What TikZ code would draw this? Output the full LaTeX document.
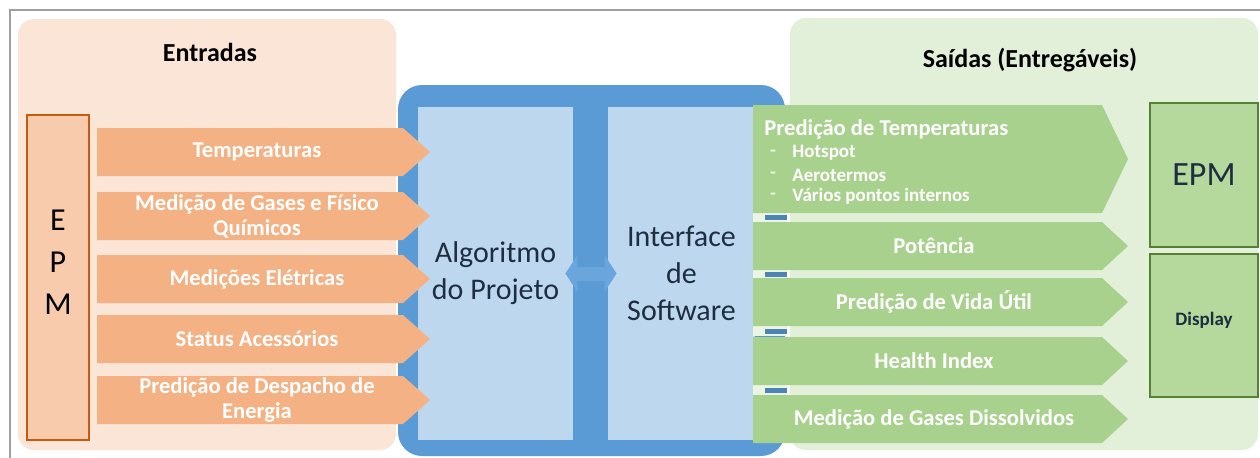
\documentclass[tikz,border=0pt]{standalone}
\usepackage{fontspec}
\setmainfont{Carlito}
\usetikzlibrary{arrows.meta}

\definecolor{peachbg}{HTML}{FBE5D6}
\definecolor{insigfill}{HTML}{F4B183}
\definecolor{epmfill}{HTML}{F8CBAD}
\definecolor{epmedge}{HTML}{C55A11}
\definecolor{frameblue}{HTML}{5B9BD5}
\definecolor{panelblue}{HTML}{BDD7EE}
\definecolor{arrowblue}{HTML}{6AA5DB}
\definecolor{greenbg}{HTML}{E2F0D9}
\definecolor{outsigfill}{HTML}{A9D18E}
\definecolor{boxgreen}{HTML}{B5D99C}
\definecolor{boxedge}{HTML}{548235}
\definecolor{darktext}{HTML}{1F2D40}

\begin{document}
\begin{tikzpicture}[x=0.5pt,y=-0.5pt,
  title/.style={font=\fontsize{13}{15}\selectfont\bfseries, text=black},
  sigtext/.style={font=\fontsize{11.3}{12.5}\selectfont\bfseries, text=white, align=center, inner sep=0pt},
  bultext/.style={font=\fontsize{9.5}{10.5}\selectfont\bfseries, text=white, inner sep=0pt},
  panel/.style={fill=panelblue, inner sep=0pt, align=center, text=darktext,
    font=\fontsize{15}{18.5}\selectfont},
  epmbox/.style={draw=boxedge, fill=boxgreen, line width=0.6pt, inner sep=0pt,
    minimum width=54pt, text=darktext},
  dblarrow/.style={draw=arrowblue, line width=7pt,
    {Triangle[width=18pt,length=6pt]}-{Triangle[width=18pt,length=6pt]},
    shorten <=-4pt, shorten >=-4.5pt}]
\useasboundingbox (0,0) rectangle (1260,457);
\fill[white] (0,0) rectangle (1260,457);
\draw[gray!75, line width=1pt] (10,10) rectangle (1275,475);

% backgrounds
\fill[peachbg, rounded corners=8pt] (18,19) rectangle (396,450);
\fill[greenbg, rounded corners=8pt] (790,18) rectangle (1258,450);
\node[title] (entr) at (210,52) {Entradas};
\node[title] (said) at (1030,60) {Saídas (Entregáveis)};

% blue frame
\fill[frameblue, rounded corners=12pt] (398,85) rectangle (785,456);
\node[panel, minimum width=77.5pt, minimum height=166.5pt] (alg) at (495.5,273.5) {Algoritmo\\do Projeto};
\node[panel, minimum width=73.5pt, minimum height=166.5pt] (intf) at (681.5,273.5) {Interface\\de\\Software};
\draw[dblarrow] (alg.east) -- (intf.west);

% EPM left
\node[draw=epmedge, fill=epmfill, line width=0.6pt, minimum width=31pt, minimum height=162.5pt, inner sep=0pt] (epmin) at (58,277.5) {};
\node[font=\fontsize{16}{21}\selectfont, align=center, text=black] (epmtxt) at (58,262) {E\\P\\M};

% inputs
\foreach \y/\t [count=\i] in {152/Temperaturas, 216/{Medição de Gases e Físico\\Químicos}, 279/Medições Elétricas, 339/Status Acessórios, 400/{Predição de Despacho de\\Energia}} {
  \fill[insigfill] (97,\y-24) -- (403,\y-24) -- (430,\y) -- (403,\y+24) -- (97,\y+24) -- cycle;
  \node[sigtext] (in\i) at (257,\y) {\t};
}

% outputs
\foreach \y in {217,274,331,390} {
  \fill[greenbg!70!white] (753,\y-5) rectangle (787,\y+5);
  \fill[frameblue!85!black] (765,\y-2.5) rectangle (787,\y+2.5);
}
\fill[outsigfill] (753,105) -- (1102,105) -- (1128,159) -- (1102,213) -- (753,213) -- cycle;
\node[sigtext, anchor=west] (ttl) at (764,129) {Predição de Temperaturas};
\foreach \y/\t [count=\i] in {153/Hotspot, 175/Aerotermos, 196/Vários pontos internos} {
  \node[bultext, text=white!75!outsigfill] (d\i) at (773,\y) {-};
  \node[bultext, anchor=west] (b\i) at (792,\y) {\t};
}
\foreach \y/\t [count=\i] in {246/Potência, 302/Predição de Vida Útil, 361/Health Index, 419/Medição de Gases Dissolvidos} {
  \fill[outsigfill] (753,\y-24) -- (1102,\y-24) -- (1128,\y) -- (1102,\y+24) -- (753,\y+24) -- cycle;
  \node[sigtext] (out\i) at (934,\y) {\t};
}

% EPM / display
\node[epmbox, minimum height=72pt, font=\fontsize{17}{20}\selectfont] (epmout) at (1204,175) {EPM};
\node[epmbox, minimum height=71.5pt, font=\fontsize{9.5}{11}\selectfont\bfseries] (disp) at (1204,325.5) {\raisebox{7pt}{Display}};
\end{tikzpicture}
\end{document}
